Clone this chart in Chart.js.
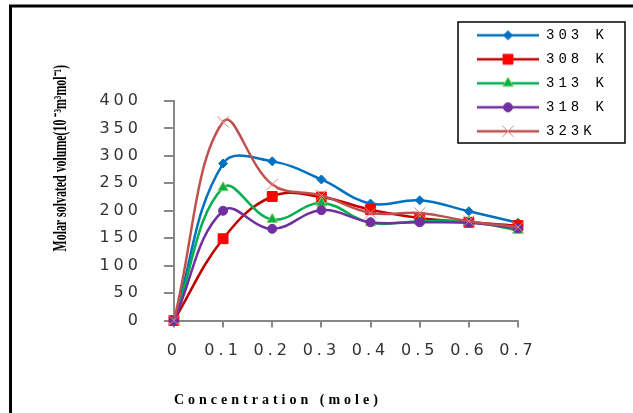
<!DOCTYPE html>
<html>
<head>
<meta charset="utf-8">
<script src="https://cdn.jsdelivr.net/npm/chart.js@4.4.1/dist/chart.umd.min.js"></script>
<style>
  body { margin: 0; background: #fff; }
  canvas { display: block; }
</style>
</head>
<body>
<canvas id="chart" width="633" height="413"></canvas>
<script>
// data
const concentrations = ['0', '0.1', '0.2', '0.3', '0.4', '0.5', '0.6', '0.7']
const seriesNames = ['303 K', '308 K', '313 K', '318 K', '323K']
const v303 = [0, 286, 290, 257, 213, 219, 199, 178]
const v308 = [0, 149, 226, 225, 202, 187, 179, 173]
const v313 = [0, 242, 184, 214, 178, 181, 180, 164]
const v318 = [0, 200, 167, 201, 179, 179, 178, 168]
const v323 = [0, 362, 248, 228, 196, 196, 181, 170]
const yMin = 0
const yMax = 400
const yStep = 50

const lineColors = ['#0070C0', '#C00000', '#00B050', '#7030A0', '#C0504D']
const markerFill = ['#0070C0', '#FF0000', '#00B050', '#7030A0', '#D9827F']
const markerEdge = ['#0070C0', '#FF0000', '#92D050', '#7030A0', '#D9827F']
const markerStyle = ['rectRot', 'rect', 'triangle', 'circle', 'crossRot']
const markerSize = [4.5, 7, 6, 4.5, 8]

const SPACING = '4px'
const legendFrame = { left: 458, top: 22, right: 625, bottom: 143 }

function legendIcon(i) {
    const c = document.createElement('canvas')
    c.width = 62
    c.height = 16
    const ctx = c.getContext('2d')
    ctx.strokeStyle = lineColors[i]
    ctx.lineWidth = 2.5
    ctx.beginPath()
    ctx.moveTo(0, 8)
    ctx.lineTo(62, 8)
    ctx.stroke()
    ctx.fillStyle = markerFill[i]
    ctx.strokeStyle = markerEdge[i]
    ctx.lineWidth = 1
    Chart.helpers.drawPoint(ctx, { pointStyle: markerStyle[i], radius: markerSize[i], borderWidth: 1, rotation: 0 }, 31, 8)
    return c
}

const allValues = [v303, v308, v313, v318, v323]

const datasets = allValues.map((vals, i) => ({
    label: seriesNames[i],
    data: vals,
    borderColor: lineColors[i],
    borderWidth: 2.5,
    tension: 0.4,
    fill: false,
    clip: false,
    order: allValues.length - i,
    pointStyle: markerStyle[i],
    pointRadius: markerSize[i],
    pointBackgroundColor: markerFill[i],
    pointBorderColor: markerEdge[i],
    pointBorderWidth: 1
}))

// wide text like the picture, except the condensed y title
const textLook = {
    id: 'textLook',
    beforeUpdate(chart) { chart.ctx.letterSpacing = SPACING },
    beforeDraw(chart) { chart.ctx.letterSpacing = SPACING },
    afterLayout(chart) {
        const lg = chart.legend
        lg.left = legendFrame.left + 9
        lg.right = legendFrame.right
        lg.top = legendFrame.top - 3.7
        lg.bottom = legendFrame.bottom + 40
        lg.width = lg.right - lg.left
        lg.height = lg.bottom - lg.top

        const y = chart.scales.y
        if (!y.drawTitle.patched) {
            const base = y.drawTitle
            y.drawTitle = function () {
                const ctx = this.ctx
                const cy = (this.top + this.bottom) / 2
                ctx.save()
                ctx.letterSpacing = '0px'
                ctx.translate(0, cy - 52.5)
                ctx.scale(1, 0.66)
                ctx.translate(0, -cy)
                base.call(this)
                ctx.restore()
            }
            y.drawTitle.patched = true
        }
    },
    afterDraw(chart) {
        const ctx = chart.ctx
        ctx.save()
        ctx.strokeStyle = '#000'
        ctx.lineWidth = 1.5
        ctx.strokeRect(legendFrame.left, legendFrame.top, legendFrame.right - legendFrame.left, legendFrame.bottom - legendFrame.top)
        ctx.lineWidth = 3
        ctx.beginPath()
        ctx.moveTo(10.5, 413)
        ctx.lineTo(10.5, 6)
        ctx.lineTo(633, 6)
        ctx.stroke()
        ctx.restore()
    }
}

const tickFont = { family: "'DejaVu Sans'", size: 16 }

new Chart(document.getElementById('chart'), {
    type: 'line',
    data: { labels: concentrations, datasets },
    plugins: [textLook],
    options: {
        responsive: false,
        animation: false,
        layout: { padding: { left: 20, top: 101, right: 115, bottom: 0 } },
        plugins: {
            tooltip: { enabled: false },
            legend: {
                position: 'chartArea',
                align: 'start',
                labels: {
                    usePointStyle: true,
                    pointStyleWidth: 62,
                    padding: 10,
                    color: '#000',
                    font: { family: "'Liberation Mono'", size: 14 },
                    generateLabels: (chart) => chart.data.datasets.map((ds, i) => ({
                        text: ds.label,
                        pointStyle: legendIcon(i),
                        datasetIndex: i,
                        hidden: false,
                        fontColor: '#000',
                        lineWidth: 0,
                        strokeStyle: 'transparent',
                        fillStyle: 'transparent'
                    }))
                }
            }
        },
        scales: {
            x: {
                type: 'category',
                offset: false,
                grid: { drawOnChartArea: false, drawTicks: true, tickLength: 7, color: '#888', lineWidth: 2 },
                border: { color: '#888', width: 2 },
                ticks: { color: '#333', font: tickFont, padding: 13.5, maxRotation: 0, autoSkip: false },
                title: {
                    display: true,
                    text: 'Concentration (mole)',
                    align: 'start',
                    color: '#000',
                    font: { family: "'Liberation Serif'", size: 14, weight: 'bold' },
                    padding: { top: 18.5, bottom: 4 }
                }
            },
            y: {
                min: yMin,
                max: yMax,
                grid: { drawOnChartArea: false, drawTicks: true, tickLength: 10, color: '#888', lineWidth: 2 },
                border: { color: '#888', width: 2 },
                ticks: { stepSize: yStep, color: '#333', font: tickFont, padding: 22 },
                title: {
                    display: true,
                    text: 'Molar solvated volume(10 ⁻³m³mol⁻¹)',
                    color: '#000',
                    font: { family: "'Liberation Serif'", size: 18, weight: 'bold' },
                    padding: { top: 31, bottom: 4.8 }
                }
            }
        }
    }
})
</script>
</body>
</html>
